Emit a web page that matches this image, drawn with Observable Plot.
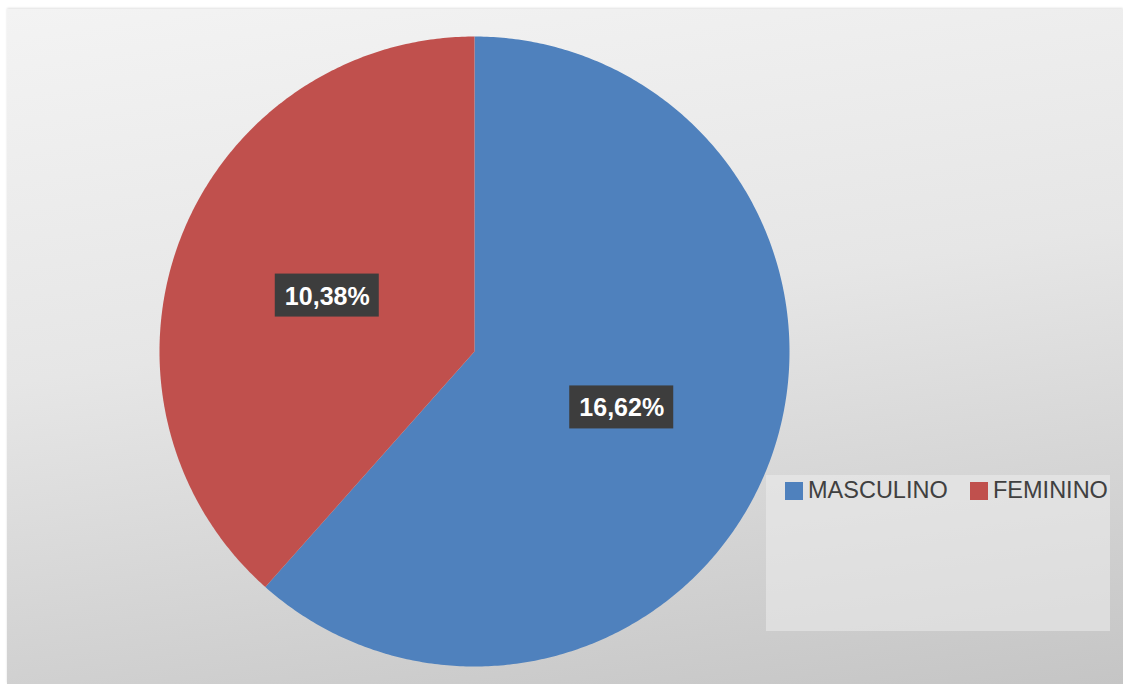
<!DOCTYPE html>
<html>
<head>
<meta charset="utf-8">
<script src="https://cdn.jsdelivr.net/npm/d3@7"></script>
<script src="https://cdn.jsdelivr.net/npm/@observablehq/plot@0.6"></script>
<style>
  html, body { margin: 0; padding: 0; background: #ffffff; }
  #frame {
    position: absolute; left: 7px; top: 9px; width: 1116px; height: 675px;
    background: linear-gradient(172deg, #f3f3f3 0%, #e6e6e6 45%, #c5c5c5 100%);
    box-shadow: 0 -1px 2px rgba(0,0,0,0.12);
    overflow: hidden;
  }
  #chart { position: absolute; left: 0; top: 0; }
  #legend {
    position: absolute; left: 759px; top: 466px; width: 344px; height: 156px;
    background: rgba(236,236,236,0.55);
    font-family: "Liberation Sans", Arial, sans-serif; font-size: 23.5px; color: #404040;
  }
  .item { position: absolute; top: 2px; height: 27px; display: flex; align-items: center; white-space: nowrap; }
  .sw { width: 18px; height: 18px; margin-right: 5px; }
</style>
</head>
<body>
<div id="frame">
  <div id="chart"></div>
  <div id="legend"></div>
</div>
<script>
// Data
const categories = ["MASCULINO", "FEMININO"];
const values = [16.62, 10.38];
const labels = ["16,62%", "10,38%"];
const colors = ["#4f81bd", "#c0504d"];

// Pie geometry derived from the data (angle clockwise from 12 o'clock)
const pie = d3.pie().sort(null).value(d => d.value);
const arcs = pie(categories.map((c, i) => ({category: c, value: values[i], label: labels[i]})));

const slicePts = [];
arcs.forEach(a => {
  const n = Math.max(2, Math.ceil((a.endAngle - a.startAngle) / 0.01));
  slicePts.push({category: a.data.category, x: 0, y: 0});
  for (let k = 0; k <= n; k++) {
    const t = a.startAngle + (a.endAngle - a.startAngle) * k / n;
    slicePts.push({category: a.data.category, x: Math.sin(t), y: Math.cos(t)});
  }
});
const labelPts = arcs.map(a => {
  const m = (a.startAngle + a.endAngle) / 2;
  return {label: a.data.label, x: 0.5 * Math.sin(m), y: 0.5 * Math.cos(m)};
});

const R = 315;           // pixel radius
const cx = 467, cy = 342; // center in frame coords
const W = 1116, H = 675;
const bw = 52 / R, bh = 21.5 / R;

const plot = Plot.plot({
  width: W, height: H,
  marginLeft: cx - R, marginRight: W - (cx + R),
  marginTop: cy - R, marginBottom: H - (cy + R),
  x: {domain: [-1, 1], axis: null},
  y: {domain: [-1, 1], axis: null},
  color: {domain: categories, range: colors},
  style: {background: "transparent", overflow: "visible"},
  marks: [
    Plot.line(slicePts, {x: "x", y: "y", z: "category", fill: "category", stroke: "none", curve: "linear-closed"}),
    Plot.rect(labelPts, {x1: d => d.x - bw, x2: d => d.x + bw, y1: d => d.y - bh, y2: d => d.y + bh, fill: "#3d3d3d"}),
    Plot.text(labelPts, {x: "x", y: "y", text: "label", fill: "#ffffff", fontSize: 25, fontWeight: "bold",
      fontFamily: "Liberation Sans, Arial, sans-serif", dy: 1})
  ]
});
document.getElementById("chart").appendChild(plot);

// Legend
const legend = document.getElementById("legend");
const lefts = [19, 204];
categories.forEach((c, i) => {
  const it = document.createElement("div");
  it.className = "item";
  it.style.left = lefts[i] + "px";
  it.innerHTML = `<span class="sw" style="background:${colors[i]}"></span><span>${c}</span>`;
  legend.appendChild(it);
});
</script>
</body>
</html>
